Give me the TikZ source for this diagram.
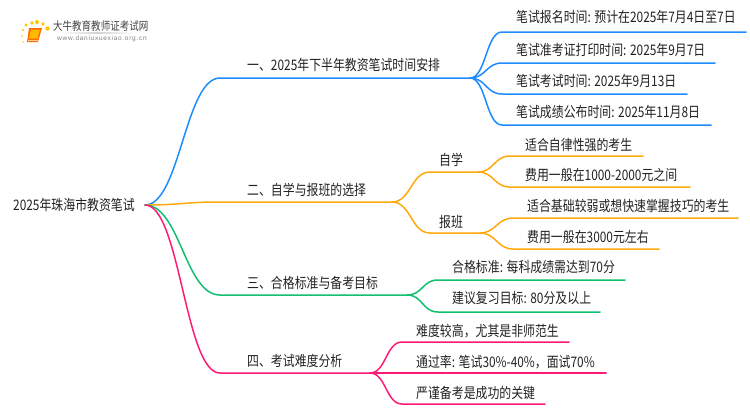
\documentclass[tikz,border=0pt]{standalone}
\usepackage{fontspec}
\setmainfont{Noto Sans CJK SC}[FakeStretch=0.82]
\newfontfamily\urlfont[LetterSpace=11]{Liberation Sans}
\usetikzlibrary{positioning, calc}
\definecolor{bluebr}{HTML}{1E8CFF}
\definecolor{orangebr}{HTML}{FFA90F}
\definecolor{greenbr}{HTML}{10C070}
\definecolor{pinkbr}{HTML}{FF1A75}
\definecolor{inktext}{HTML}{222222}
\tikzset{
	lbl/.style={anchor=west, inner sep=0pt, text=inktext, font=\fontsize{14.5}{15}\selectfont, text height=12.5pt, text depth=1.5pt},
	br/.style={line width=1.5pt, line cap=round},
	dot/.style={fill=orange!45!yellow}
}
\begin{document}
\begin{tikzpicture}[x=1pt, y=-1pt]
\useasboundingbox (0,0) rectangle (750,410);
% logo
\foreach \x/\y/\r in {26/25/1.6, 32/23/1.9, 37/22/2, 43/24/1.9, 47.5/28.5/2.2, 23/30/1.2, 22/36/1, 23/42/.8}
	\fill[dot] (\x,\y) circle (\r);
\fill[orange!85!red] (29,28)--(42,28)--(38,42)--(27,42)--cycle;
\fill[orange!55!yellow] (31,29.5)--(40,29.5)--(37.5,38.5)--(29,38.5)--cycle;
\draw[orange!40, line width=.8pt] (28,40.5)--(38,40.5);
\shade[left color=white, right color=white, middle color=gray!35] (60,32.5) rectangle (135,33.5);
\node[inner sep=0pt, anchor=west, text=inktext!85] (logotxt) at (53,26) {\fontsize{11.6}{12}\selectfont 大牛教育教师证考试网};
\node[inner sep=0pt, anchor=west, text=gray] (logourl) at (57,39) {\urlfont\fontsize{6.5}{8}\selectfont www.daniuxuexiao.org.cn};
% root
\node[lbl] (root) at (13,205) {2025年珠海市教资笔试};
\coordinate (rootend) at (145,205);
% blue
\node[lbl] (one) at (247,65) {一、2025年下半年教资笔试时间安排};
\node[lbl] (one1) at (516,17) {笔试报名时间: 预计在2025年7月4日至7日};
\node[lbl] (one2) at (516,50) {笔试准考证打印时间: 2025年9月7日};
\node[lbl] (one3) at (516,81) {笔试考试时间: 2025年9月13日};
\node[lbl] (one4) at (516,112) {笔试成绩公布时间: 2025年11月8日};
\coordinate (ones) at (220,78);
\coordinate (onee) at (470,78);
\draw[br, bluebr] (rootend) .. controls +(35,0) and +(-35,0) .. (ones) -- (onee);
\foreach \ya/\xa/\xb in {32/502/746, 63/502/715, 94/502/687, 125/502/711}
	\draw[br, bluebr] (onee) .. controls +(16,0) and +(-16,0) .. (\xa,\ya) -- (\xb,\ya);
% orange
\node[lbl] (two) at (247,190) {二、自学与报班的选择};
\node[lbl] (zixue) at (439,160) {自学};
\node[lbl] (baoban) at (439,222) {报班};
\node[lbl] (z1) at (525,145) {适合自律性强的考生};
\node[lbl] (z2) at (525,175) {费用一般在1000-2000元之间};
\node[lbl] (b1) at (527,206) {适合基础较弱或想快速掌握技巧的考生};
\node[lbl] (b2) at (527,237) {费用一般在3000元左右};
\coordinate (twos) at (220,202);
\coordinate (twoe) at (392,202);
\coordinate (zixuee) at (478,172);
\coordinate (baobane) at (480,233);
\draw[br, orangebr] (rootend) .. controls +(35,0) and +(-35,0) .. (twos) -- (twoe);
\draw[br, orangebr] (twoe) .. controls +(19,0) and +(-19,0) .. (430,172) -- (zixuee);
\draw[br, orangebr] (twoe) .. controls +(19,0) and +(-19,0) .. (430,233) -- (baobane);
\foreach \ya/\xa/\xb in {156/510/643, 187/510/690}
	\draw[br, orangebr] (zixuee) .. controls +(16,0) and +(-16,0) .. (\xa,\ya) -- (\xb,\ya);
\foreach \ya/\xa/\xb in {218/513/738, 249/513/659}
	\draw[br, orangebr] (baobane) .. controls +(16,0) and +(-16,0) .. (\xa,\ya) -- (\xb,\ya);
% green
\node[lbl] (three) at (247,283) {三、合格标准与备考目标};
\node[lbl] (three1) at (452,267) {合格标准: 每科成绩需达到70分};
\node[lbl] (three2) at (452,298) {建议复习目标: 80分及以上};
\coordinate (threes) at (220,295);
\coordinate (threee) at (407,295);
\draw[br, greenbr] (rootend) .. controls +(35,0) and +(-35,0) .. (threes) -- (threee);
\foreach \ya/\xa/\xb in {280/438/625, 312/438/600}
	\draw[br, greenbr] (threee) .. controls +(16,0) and +(-16,0) .. (\xa,\ya) -- (\xb,\ya);
% pink
\node[lbl] (four) at (247,361) {四、考试难度分析};
\node[lbl] (four1) at (416,331) {难度较高，尤其是非师范生};
\node[lbl] (four2) at (416,362) {通过率: 笔试30\%-40\%，面试70\%};
\node[lbl] (four3) at (416,393) {严谨备考是成功的关键};
\coordinate (fours) at (220,373);
\coordinate (foure) at (370,373);
\draw[br, pinkbr] (rootend) .. controls +(35,0) and +(-35,0) .. (fours) -- (foure);
\foreach \ya/\xa/\xb in {342/402/569, 373/402/606, 404/402/545}
	\draw[br, pinkbr] (foure) .. controls +(16,0) and +(-16,0) .. (\xa,\ya) -- (\xb,\ya);
\end{tikzpicture}
\end{document}
